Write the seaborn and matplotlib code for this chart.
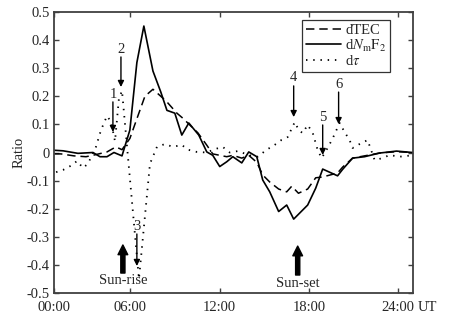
import numpy as np
import pandas as pd
import matplotlib
matplotlib.use('Agg')
import matplotlib.pyplot as plt
import seaborn as sns

# temps (heures UT) et valeurs relatives
t_tec = [0.87, 1.34, 2.21, 3.02, 3.56, 4.43, 5.03, 5.44, 5.97, 6.44, 6.98, 7.52, 8.05,
         8.46, 9.13, 9.53, 10.54, 11.14, 11.54, 12.01, 12.48, 12.89, 13.49, 13.96,
         14.50, 14.90, 15.37, 15.97, 16.51, 16.85, 17.30, 17.92, 18.46, 18.93, 19.93,
         20.27, 20.94, 21.74, 22.75, 23.89, 24.97]
d_tec = [-0.005, -0.005, -0.012, -0.015, -0.009, 0.002, 0.02, 0.01, 0.05, 0.12, 0.2,
         0.225, 0.2, 0.18, 0.14, 0.122, 0.07, 0.026, -0.005, -0.01, -0.015, -0.01,
         -0.02, -0.01, -0.035, -0.08, -0.105, -0.13, -0.14, -0.12, -0.145, -0.13,
         -0.09, -0.087, -0.073, -0.052, -0.02, -0.012, -0.002, 0.003, 0.0]

t_nmf2 = [0.87, 1.48, 2.48, 3.49, 3.96, 4.43, 4.90, 5.44, 5.97, 6.44, 6.91, 7.52, 8.05,
          8.46, 8.99, 9.46, 9.93, 10.60, 11.14, 11.54, 12.01, 12.48, 12.89, 13.49,
          13.96, 14.50, 14.90, 15.37, 15.97, 16.51, 16.98, 17.92, 18.46, 18.93, 19.93,
          20.27, 20.94, 21.74, 22.75, 23.89, 24.97]
d_nmf2 = [0.008, 0.006, -0.003, 0.0, -0.015, -0.015, 0.0, -0.012, 0.08, 0.32, 0.45,
          0.29, 0.215, 0.15, 0.14, 0.062, 0.105, 0.062, 0.002, -0.01, -0.05, -0.033,
          -0.015, -0.037, 0.002, -0.015, -0.098, -0.14, -0.21, -0.187, -0.237, -0.187,
          -0.127, -0.059, -0.083, -0.06, -0.02, -0.015, -0.002, 0.005, 0.0]

t_tau = [1.01, 1.48, 2.08, 2.42, 2.82, 3.15, 3.69, 4.03, 4.43, 4.70, 4.97, 5.23, 5.44,
         6.58, 7.32, 7.79, 8.32, 8.86, 9.46, 9.87, 10.47, 11.14, 11.68, 12.21, 12.68,
         13.22, 14.03, 14.56, 15.17, 15.70, 16.17, 16.58, 17.05, 17.32, 17.58, 17.92,
         18.26, 18.59, 18.86, 19.26, 19.60, 20.07, 20.40, 20.74, 20.94, 21.54, 21.95,
         22.42, 22.95, 23.42, 24.09, 24.97]
d_tau = [-0.07, -0.062, -0.045, -0.03, -0.055, -0.04, 0.02, 0.08, 0.13, 0.11, 0.04,
         0.19, 0.22, -0.45, -0.04, 0.02, 0.03, 0.02, 0.027, 0.01, 0.002, 0.0, 0.012,
         0.02, 0.0, 0.005, -0.01, -0.015, 0.01, 0.027, 0.045, 0.055, 0.108, 0.08,
         0.069, 0.098, 0.07, 0.009, -0.02, 0.016, 0.05, 0.105, 0.073, 0.044, 0.016,
         0.034, 0.044, -0.027, -0.02, -0.009, -0.015, -0.01]

labels = ['dTEC', r'd$N_{\mathrm{m}}\mathrm{F}_2$', r'd$\tau$']
x_ticks = [0.87, 6, 12, 18, 24]
x_ticklabels = ['00:00', '06:00', '12:00', '18:00', '24:00']
y_ticks = [-0.5, -0.4, -0.3, -0.2, -0.1, 0, 0.1, 0.2, 0.3, 0.4, 0.5]
y_ticklabels = ['-0.5', '-0.4', '-0.3', '-0.2', '-0.1', '0', '0.1', '0.2', '0.3', '0.4', '0.5']

sns.set_style('ticks')
plt.rcParams['font.family'] = ['Liberation Serif', 'DejaVu Serif']
plt.rcParams['mathtext.fontset'] = 'stix'
plt.rcParams['axes.unicode_minus'] = False

fig = plt.figure(figsize=(4.52, 3.17), dpi=100)
ax = fig.add_axes([54 / 452, 24 / 317, 359 / 452, 281 / 317])

sns.lineplot(x=t_tec, y=d_tec, ax=ax, color='k', lw=1.1, linestyle=(0, (5.5, 3.2)),
             estimator=None, sort=False, label=labels[0])
sns.lineplot(x=t_nmf2, y=d_nmf2, ax=ax, color='k', lw=1.2, linestyle='-',
             estimator=None, sort=False, label=labels[1])
sns.lineplot(x=t_tau, y=d_tau, ax=ax, color='k', lw=1.3, linestyle=(0, (0.8, 3.2)),
             estimator=None, sort=False, label=labels[2])

ax.set_xlim(0.87, 25)
ax.set_ylim(-0.5, 0.5)
ax.set_xticks(x_ticks)
ax.set_xticklabels(x_ticklabels)
ax.set_yticks(y_ticks)
ax.set_yticklabels(y_ticklabels)
ax.tick_params(direction='in', length=3.5, top=True, right=True, labelsize=10.5,
               color='#404040', width=1)
ax.tick_params(axis='x', pad=6)
ax.tick_params(axis='y', pad=3)
for sp in ax.spines.values():
    sp.set_color('#404040')
    sp.set_linewidth(1.3)
ax.set_xlabel('')
ax.set_ylabel('Ratio', fontsize=10.5)
ax.yaxis.set_label_coords(-0.08, 0.5)

ax.annotate('UT', xy=(24, 0), xycoords=('data', 'axes fraction'), xytext=(14, -6),
            textcoords='offset points', ha='left', va='top', fontsize=10.5)

leg = ax.legend(loc='upper right', bbox_to_anchor=(0.936, 0.972), borderaxespad=0,
                fancybox=False, frameon=True, fontsize=10.5, handlelength=2.4,
                labelspacing=0.05, borderpad=0.25, handletextpad=0.3)
leg.get_frame().set_edgecolor('k')
leg.get_frame().set_linewidth(0.9)

# flèches numérotées
thin = dict(arrowstyle='-|>', color='k', lw=1, mutation_scale=9, shrinkA=0, shrinkB=0)
marks = [('1', 4.83, 0.18, 0.073), ('2', 5.37, 0.34, 0.233), ('3', 6.44, -0.29, -0.404),
         ('4', 16.98, 0.237, 0.126), ('5', 18.93, 0.098, -0.009), ('6', 20.0, 0.215, 0.101)]
for txt, x, y0, y1 in marks:
    ax.annotate('', xy=(x, y1), xytext=(x, y0), arrowprops=thin)
    ax.text(x, y0 + 0.005, txt, ha='center', va='bottom', fontsize=10.5)

thick = dict(width=3, headwidth=7, headlength=7, color='k', shrink=0)
ax.annotate('', xy=(5.5, -0.329), xytext=(5.5, -0.429), arrowprops=thick)
ax.text(5.5, -0.456, 'Sun-rise', ha='center', va='center', fontsize=10.5)
ax.annotate('', xy=(17.25, -0.333), xytext=(17.25, -0.436), arrowprops=thick)
ax.text(17.25, -0.466, 'Sun-set', ha='center', va='center', fontsize=10.5)

fig.savefig('out.png', dpi=100)
